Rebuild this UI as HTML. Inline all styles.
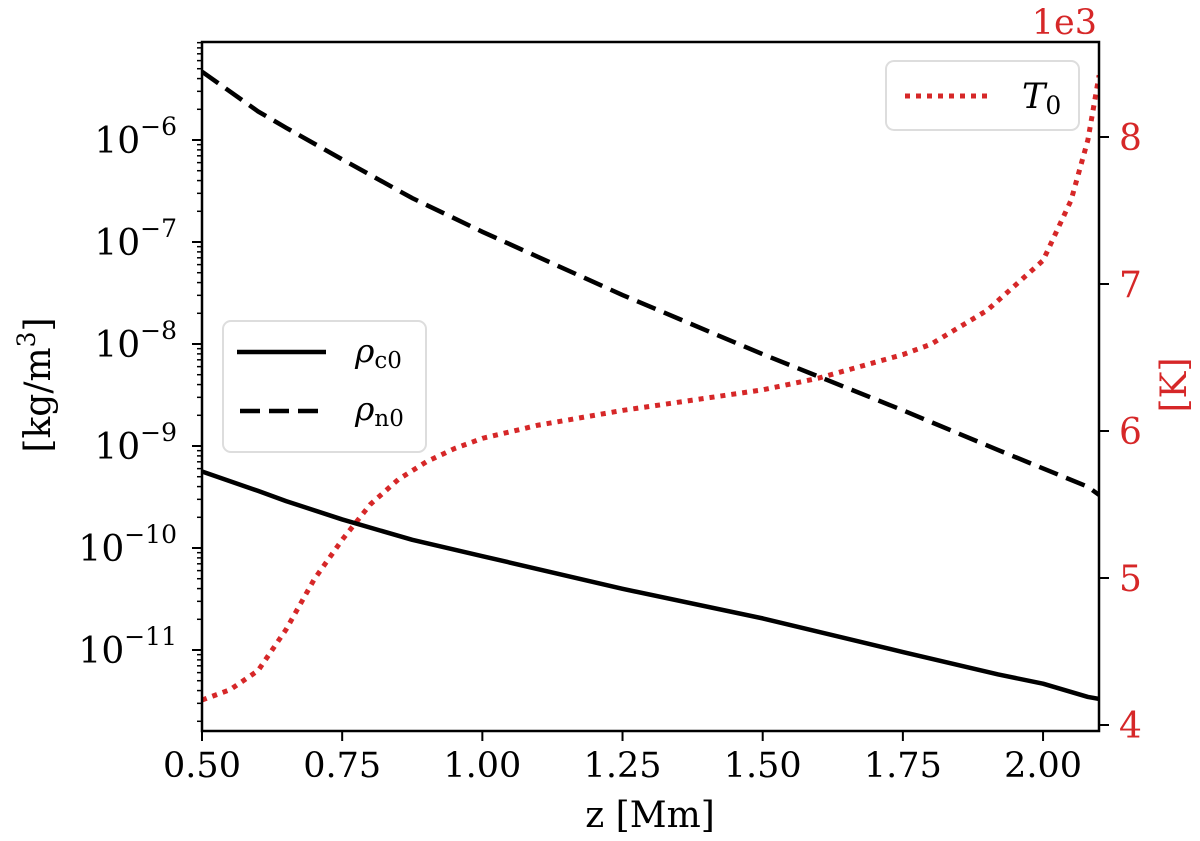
<!DOCTYPE html>
<html><head><meta charset="utf-8">
<style>
html,body{margin:0;padding:0;background:#fff;}
svg{display:block;font-family:"DejaVu Serif","Liberation Serif",serif;}
</style></head>
<body>
<svg id="chart" width="1200" height="841" viewBox="0 0 1200 841" xmlns="http://www.w3.org/2000/svg">
<g id="marks"></g>
<g id="axes"></g>
</svg>
<script>
const zValues = [0.5,0.6,0.65,0.75,0.875,1.0,1.25,1.5,1.75,1.92,2.0,2.08,2.1];
const rhoC0Log = [-9.25,-9.44,-9.54,-9.72,-9.92,-10.08,-10.40,-10.69,-11.02,-11.24,-11.33,-11.46,-11.48];
const rhoN0Log = [-5.33,-5.72,-5.88,-6.19,-6.57,-6.90,-7.52,-8.10,-8.65,-9.04,-9.22,-9.40,-9.48];
const tZ = [0.5,0.55,0.6,0.65,0.7,0.75,0.8,0.85,0.9,0.95,1.0,1.1,1.25,1.5,1.6,1.75,1.8,1.9,2.0,2.05,2.08,2.1];
const tValues = [4.17,4.24,4.37,4.65,4.99,5.26,5.50,5.67,5.79,5.88,5.95,6.04,6.14,6.28,6.36,6.52,6.59,6.82,7.16,7.57,7.98,8.42];
const xTicks = [0.5,0.75,1.0,1.25,1.5,1.75,2.0];
const xTickLabels = ["0.50","0.75","1.00","1.25","1.50","1.75","2.00"];
const yLogTicks = [-6,-7,-8,-9,-10,-11];
const tTicks = [4,5,6,7,8];

const L=202,R=1099,T=42,B=731;
const X=z=>202+(z-0.5)*560.7;
const Y=lg=>446-(lg+9)*102;
const YT=t=>137-(t-8)*147;
const NS="http://www.w3.org/2000/svg";
const marks=document.getElementById('marks'), axes=document.getElementById('axes');
function mk(tag,attrs,parent){const e=document.createElementNS(NS,tag);for(const k in attrs)e.setAttribute(k,attrs[k]);parent.appendChild(e);return e;}

const defs=mk('defs',{},marks);
const cp=mk('clipPath',{id:'clip'},defs);
mk('rect',{x:L,y:T,width:R-L,height:B-T},cp);

let p=mk('polyline',{points:tZ.map((z,i)=>X(z)+','+YT(tValues[i])).join(' '),fill:'none',stroke:'#d62728','stroke-width':5,'stroke-dasharray':'5 6','clip-path':'url(#clip)'},marks);


p=mk('polyline',{points:zValues.map((z,i)=>X(z)+','+Y(rhoC0Log[i])).join(' '),fill:'none',stroke:'#000','stroke-width':4.5,'stroke-linejoin':'round','clip-path':'url(#clip)'},marks);


p=mk('polyline',{points:zValues.map((z,i)=>X(z)+','+Y(rhoN0Log[i])).join(' '),fill:'none',stroke:'#000','stroke-width':4.5,'stroke-dasharray':'20 9','clip-path':'url(#clip)'},marks);



let fr=mk('rect',{x:L,y:T,width:R-L,height:B-T,fill:'none',stroke:'#000','stroke-width':2.5},axes);



xTicks.forEach((v,i)=>{
  const x=X(v);
  mk('line',{x1:x,y1:B,x2:x,y2:B+10,stroke:'#000','stroke-width':2},axes);
  const t=mk('text',{x:x,y:B+46,'font-size':35,'text-anchor':'middle',fill:'#000'},axes);
  t.textContent=xTickLabels[i];
  
  
});
for(let d=-12;d<=-5;d++){
  for(let m=1;m<10;m++){
    const lg=d+Math.log10(m);const y=Y(lg);
    if(y<T-0.5||y>B+0.5)continue;
    mk('line',{x1:L,y1:y,x2:L-(m===1?10:5),y2:y,stroke:'#000','stroke-width':m===1?2:1.5},axes);
  }
}
yLogTicks.forEach(v=>{
  const y=Y(v);
  const t=mk('text',{x:177,y:y+13,'font-size':36,'text-anchor':'end',fill:'#000'},axes);
  t.textContent='10';
  const s=mk('tspan',{dy:-18,'font-size':25},t);
  s.textContent='\u2212'+(-v);
  
  
});
tTicks.forEach(v=>{
  const y=YT(v);
  mk('line',{x1:R,y1:y,x2:R+10,y2:y,stroke:'#000','stroke-width':2},axes);
  const t=mk('text',{x:R+20,y:y+13,'font-size':36,fill:'#d62728'},axes);
  t.textContent=String(v);
  
  
});
</script>
<svg style="position:absolute;left:0;top:0" width="1200" height="841" xmlns="http://www.w3.org/2000/svg" font-family="DejaVu Serif, Liberation Serif, serif">
<text x="1097" y="34" font-size="35" text-anchor="end" fill="#d62728">1e3</text>
<text x="650" y="827" font-size="36" text-anchor="middle">z [Mm]</text>
<text transform="translate(50,385) rotate(-90)" font-size="36" text-anchor="middle">[kg/m<tspan dy="-15" font-size="25">3</tspan><tspan dy="15">]</tspan></text>
<text transform="translate(1186,385) rotate(-90)" font-size="36" text-anchor="middle" fill="#d62728">[K]</text>
<g>
<rect x="223" y="321" width="203" height="131" rx="8" fill="#fff" fill-opacity="0.8" stroke="#ddd" stroke-width="2"/>
<line x1="237" y1="352" x2="326" y2="352" stroke="#000" stroke-width="4.5"/>
<line x1="240" y1="411" x2="326" y2="411" stroke="#000" stroke-width="4.5" stroke-dasharray="20 9"/>
<text x="355" y="362" font-size="33" font-style="italic">ρ<tspan font-size="23" font-style="normal" dy="6">c0</tspan></text>
<text x="355" y="420" font-size="33" font-style="italic">ρ<tspan font-size="23" font-style="normal" dy="6">n0</tspan></text>
</g>
<g>
<rect x="886" y="61" width="193" height="69" rx="8" fill="#fff" fill-opacity="0.8" stroke="#ddd" stroke-width="2"/>
<line x1="905" y1="96" x2="992" y2="96" stroke="#d62728" stroke-width="5" stroke-dasharray="5 6"/>
<text x="1022" y="108" font-size="35" font-style="italic">T<tspan font-size="25" font-style="normal" dy="6">0</tspan></text>
</g>
</svg>
</body></html>
